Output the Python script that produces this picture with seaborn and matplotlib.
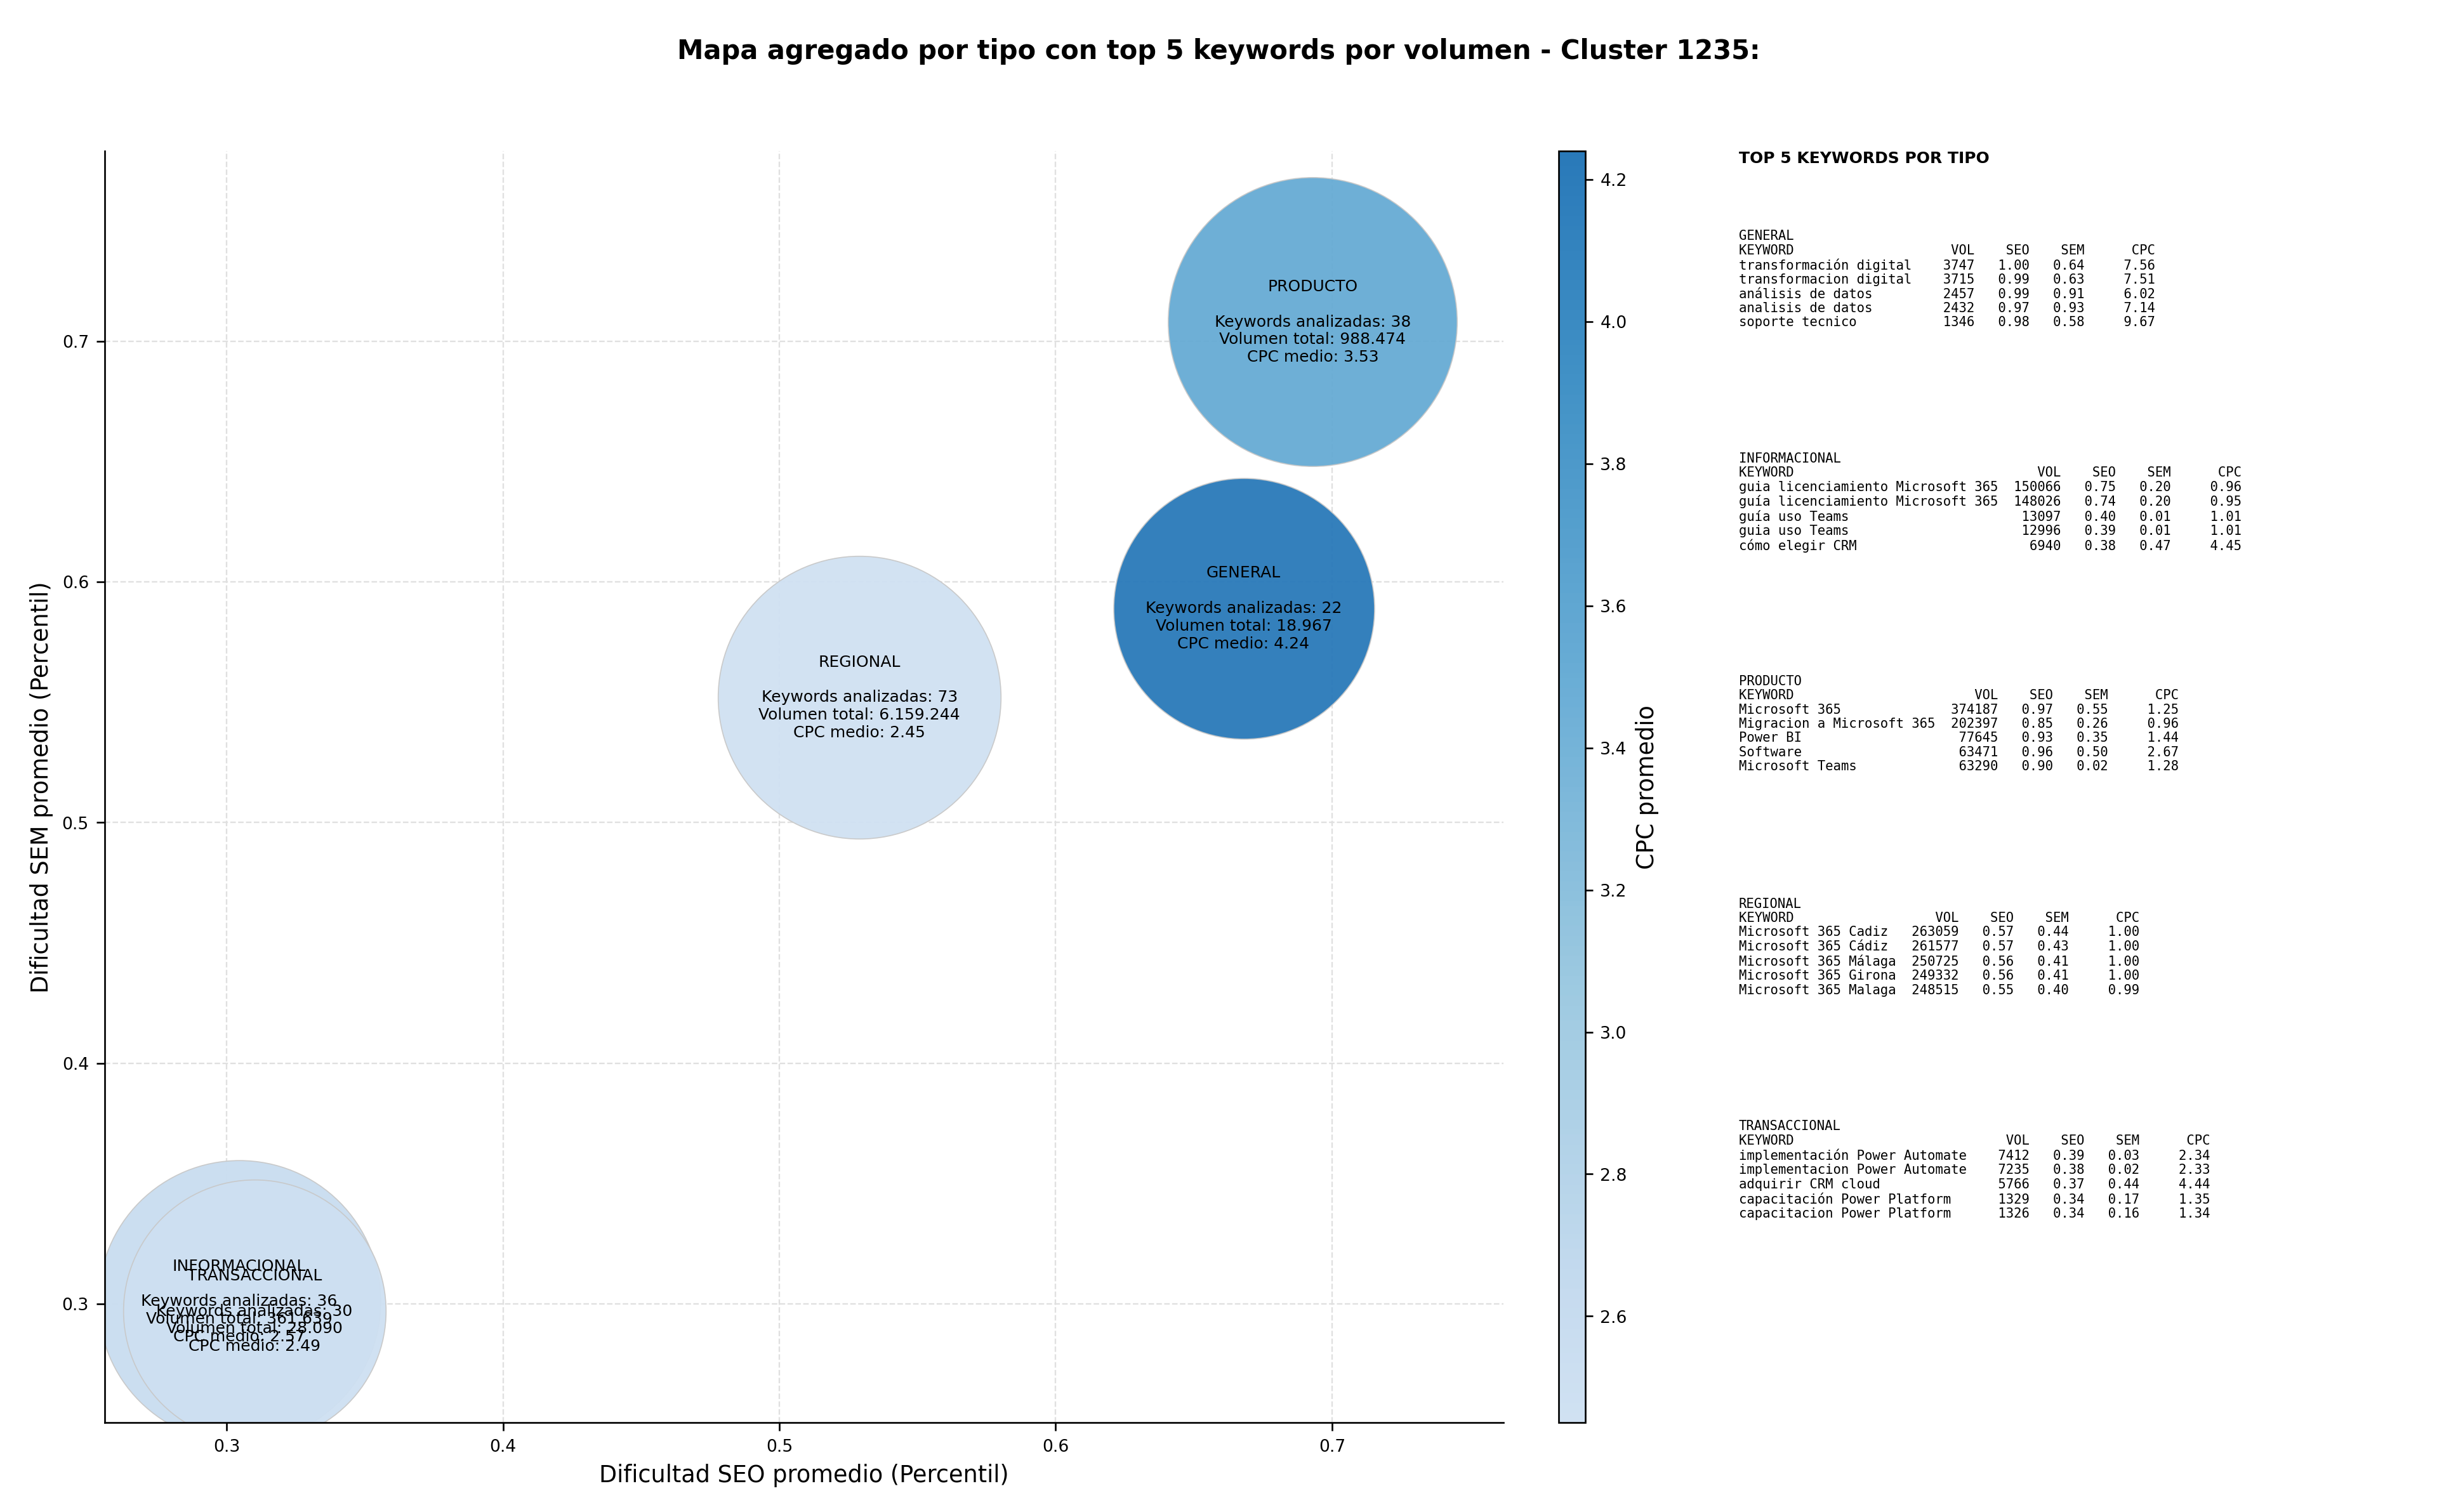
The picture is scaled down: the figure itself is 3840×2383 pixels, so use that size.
import numpy as np
import pandas as pd
import matplotlib
import matplotlib.pyplot as plt
import seaborn as sns
from matplotlib.colors import LinearSegmentedColormap, Normalize

# aggregated data per type
tipos = ["GENERAL", "INFORMACIONAL", "PRODUCTO", "REGIONAL", "TRANSACCIONAL"]
seo_medio = [0.668, 0.3045, 0.693, 0.529, 0.310]
sem_medio = [0.589, 0.301, 0.708, 0.552, 0.297]
n_keywords = [22, 36, 38, 73, 30]
vol_total = [18967, 361639, 988474, 6159244, 28090]
cpc_medio = [4.24, 2.57, 3.53, 2.45, 2.49]
bubble_size = [15200, 17800, 18660, 17870, 15400]

# top 5 keywords per type: (keyword, vol, seo, sem, cpc)
top_kw = {
    "GENERAL": [
        ("transformación digital", 3747, 1.00, 0.64, 7.56),
        ("transformacion digital", 3715, 0.99, 0.63, 7.51),
        ("análisis de datos", 2457, 0.99, 0.91, 6.02),
        ("analisis de datos", 2432, 0.97, 0.93, 7.14),
        ("soporte tecnico", 1346, 0.98, 0.58, 9.67),
    ],
    "INFORMACIONAL": [
        ("guia licenciamiento Microsoft 365", 150066, 0.75, 0.20, 0.96),
        ("guía licenciamiento Microsoft 365", 148026, 0.74, 0.20, 0.95),
        ("guía uso Teams", 13097, 0.40, 0.01, 1.01),
        ("guia uso Teams", 12996, 0.39, 0.01, 1.01),
        ("cómo elegir CRM", 6940, 0.38, 0.47, 4.45),
    ],
    "PRODUCTO": [
        ("Microsoft 365", 374187, 0.97, 0.55, 1.25),
        ("Migracion a Microsoft 365", 202397, 0.85, 0.26, 0.96),
        ("Power BI", 77645, 0.93, 0.35, 1.44),
        ("Software", 63471, 0.96, 0.50, 2.67),
        ("Microsoft Teams", 63290, 0.90, 0.02, 1.28),
    ],
    "REGIONAL": [
        ("Microsoft 365 Cadiz", 263059, 0.57, 0.44, 1.00),
        ("Microsoft 365 Cádiz", 261577, 0.57, 0.43, 1.00),
        ("Microsoft 365 Málaga", 250725, 0.56, 0.41, 1.00),
        ("Microsoft 365 Girona", 249332, 0.56, 0.41, 1.00),
        ("Microsoft 365 Malaga", 248515, 0.55, 0.40, 0.99),
    ],
    "TRANSACCIONAL": [
        ("implementación Power Automate", 7412, 0.39, 0.03, 2.34),
        ("implementacion Power Automate", 7235, 0.38, 0.02, 2.33),
        ("adquirir CRM cloud", 5766, 0.37, 0.44, 4.44),
        ("capacitación Power Platform", 1329, 0.34, 0.17, 1.35),
        ("capacitacion Power Platform", 1326, 0.34, 0.16, 1.34),
    ],
}

df = pd.DataFrame({"tipo": tipos, "seo": seo_medio, "sem": sem_medio, "n": n_keywords,
                   "vol": vol_total, "cpc": cpc_medio, "size": bubble_size})

sns.set_style("white")
plt.rcParams["font.family"] = ["DejaVu Sans"]
plt.rcParams["text.color"] = "black"
plt.rcParams["axes.labelcolor"] = "black"
plt.rcParams["xtick.color"] = "black"
plt.rcParams["ytick.color"] = "black"
plt.rcParams["axes.edgecolor"] = "black"

cmap = LinearSegmentedColormap.from_list("blues_cut", plt.cm.Blues(np.linspace(0.2, 0.72, 256)))
norm = Normalize(vmin=df["cpc"].min(), vmax=df["cpc"].max())

fig = plt.figure(figsize=(16, 9.93))
ax = fig.add_axes([0.043, 0.059, 0.574, 0.841])
cax = fig.add_axes([0.6395, 0.059, 0.011, 0.841])

for _, r in df.iterrows():
    ax.scatter(r["seo"], r["sem"], s=r["size"], color=cmap(norm(r["cpc"])), alpha=0.95,
               edgecolor="#c8c8c8", linewidth=0.5, zorder=2)
    vol_txt = f"{int(r['vol']):,}".replace(",", ".")
    ax.text(r["seo"], r["sem"],
            f"{r['tipo']}\n\nKeywords analizadas: {int(r['n'])}\nVolumen total: {vol_txt}\nCPC medio: {r['cpc']:.2f}",
            ha="center", va="center", fontsize=7.5, zorder=3)

ax.set_xlim(0.2559, 0.7621)
ax.set_ylim(0.2506, 0.779)
ax.set_xticks([0.3, 0.4, 0.5, 0.6, 0.7])
ax.set_yticks([0.3, 0.4, 0.5, 0.6, 0.7])
ax.grid(True, linestyle="--", color="#e0e0e0", linewidth=0.7, zorder=0)
ax.set_axisbelow(True)
sns.despine(ax=ax)
ax.tick_params(axis="both", labelsize=8, length=4, left=True, bottom=True)
ax.set_xlabel("Dificultad SEO promedio (Percentil)", fontsize=11)
ax.set_ylabel("Dificultad SEM promedio (Percentil)", fontsize=11)

sm = matplotlib.cm.ScalarMappable(norm=norm, cmap=cmap)
cb = fig.colorbar(sm, cax=cax)
cb.set_label("CPC promedio", fontsize=11)
cb.ax.tick_params(labelsize=8)

fig.suptitle("Mapa agregado por tipo con top 5 keywords por volumen - Cluster 1235:",
             fontsize=12.5, fontweight="bold", y=0.975)

# keyword tables
fig.text(0.7135, 0.90, "TOP 5 KEYWORDS POR TIPO", fontsize=7.5, fontweight="bold", va="top")
y0 = 0.848
for i, t in enumerate(tipos):
    rows = top_kw[t]
    w = max(len(k[0]) for k in rows)
    lines = [t, f"{'KEYWORD':<{w}}{'VOL':>8}{'SEO':>7}{'SEM':>7}{'CPC':>9}"]
    for kw, v, s1, s2, c in rows:
        lines.append(f"{kw:<{w}}{v:>8}{s1:>7.2f}{s2:>7.2f}{c:>9.2f}")
    fig.text(0.7135, y0 - i * 0.1472, "\n".join(lines), family="DejaVu Sans Mono",
             fontsize=6.2, va="top", linespacing=1.15)

fig.savefig("out.png", dpi=240)
